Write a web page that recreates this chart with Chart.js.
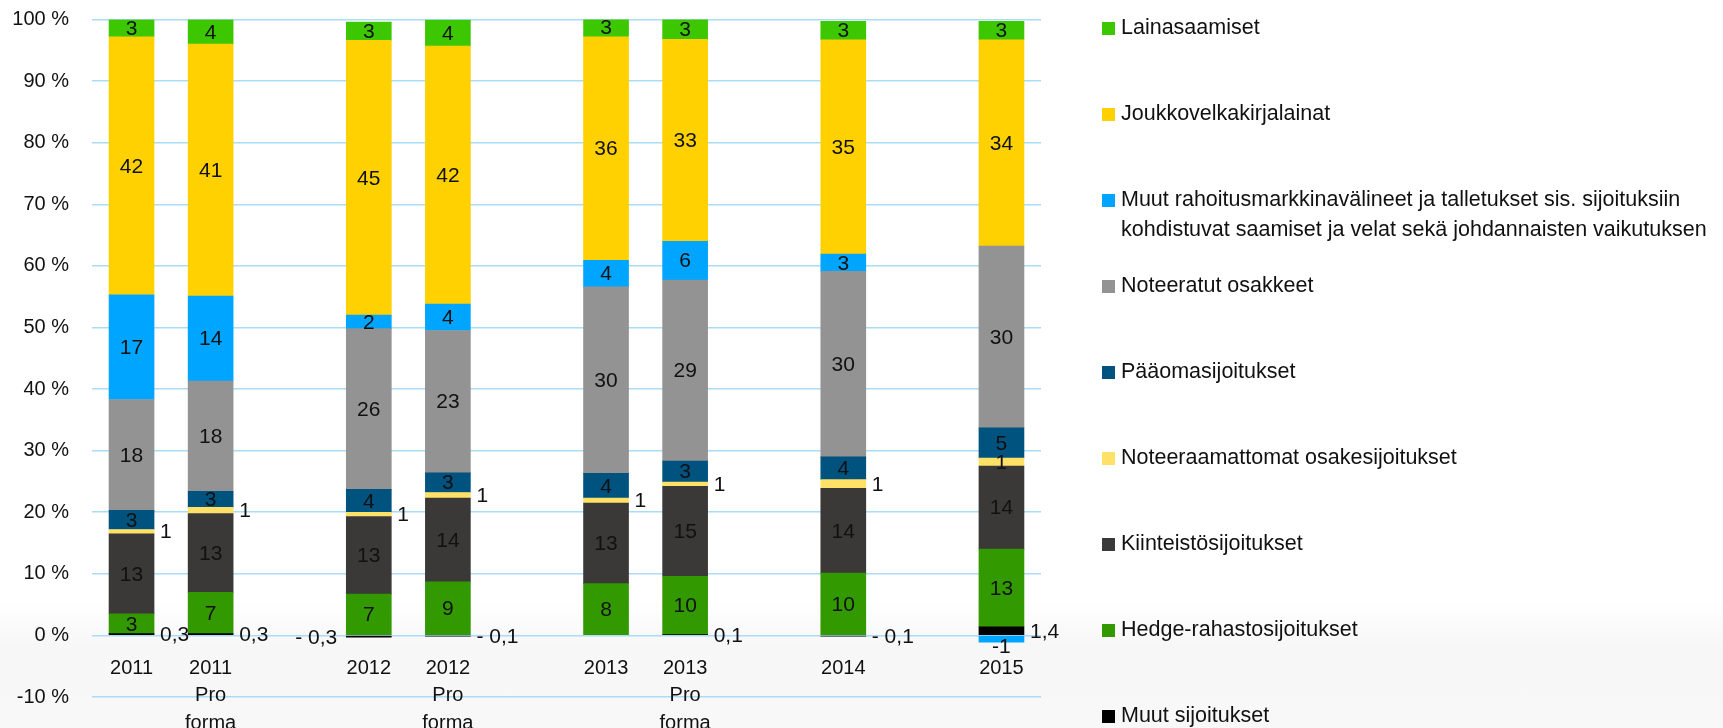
<!DOCTYPE html>
<html>
<head>
<meta charset="utf-8">
<script src="https://cdn.jsdelivr.net/npm/chart.js@4"></script>
<style>
  html, body { margin: 0; padding: 0; overflow: hidden; }
  body { width: 1723px; height: 728px; background: linear-gradient(#fff 0, #fff 600px, #f7f7f7 645px, #f8f8f8 728px); }
  canvas { display: block; }
</style>
</head>
<body>
<canvas id="allocChart" width="1723" height="728"></canvas>
<script>
// category slots, '' = empty spacer column as in the original sheet
const categories = [
  "2011", ["2011", "Pro", "forma"], "",
  "2012", ["2012", "Pro", "forma"], "",
  "2013", ["2013", "Pro", "forma"], "",
  "2014", "", "2015",
];

// one value per period: 2011, 2011 PF, 2012, 2012 PF, 2013, 2013 PF, 2014, 2015
const muutSijoitukset = [0.3, 0.3, -0.3, -0.1, null, 0.1, -0.1, 1.4];
const hedge = [3.2, 6.7, 6.7, 8.7, 8.4, 9.5, 10.1, 12.6];
const kiinteisto = [13.0, 12.8, 12.6, 13.6, 13.1, 14.6, 13.8, 13.5];
const noteeraamattomat = [0.7, 1.0, 0.7, 0.9, 0.8, 0.7, 1.4, 1.3];
const paaoma = [3.1, 2.6, 3.7, 3.2, 4.0, 3.4, 3.7, 4.9];
const noteeratut = [18.0, 17.9, 26.1, 23.1, 30.3, 29.4, 30.1, 29.5];
const muutRahoitus = [17.0, 13.8, 2.2, 4.3, 4.3, 6.3, 2.8, -1.1];
const joukkovelka = [41.9, 40.9, 44.6, 41.9, 36.3, 32.8, 34.8, 33.5];
const lainasaamiset = [2.8, 4.0, 3.0, 4.2, 3.0, 3.3, 3.0, 3.0];

const yTicks = [-10, 0, 10, 20, 30, 40, 50, 60, 70, 80, 90, 100];

const FONT = "'Liberation Sans', Arial, sans-serif";

// put per-period values onto the non-empty category slots
function _spread(values) {
  const out = [];
  let k = 0;
  for (let i = 0; i < categories.length; i++) {
    if (categories[i] === "") out.push(null);
    else out.push(values[k++]);
  }
  return out;
}

function _fmtInt(v) {
  return String(Math.round(v));
}

function _fmtDec(v) {
  const s = Math.abs(v).toFixed(1).replace(".", ",");
  return v < 0 ? "- " + s : s;
}

const series = [
  { label: "Muut sijoitukset", data: muutSijoitukset, color: "#000000", fmt: _fmtDec,
    place: ["right", "right", "left", "right", "right", "right", "right", "right"] },
  { label: "Hedge-rahastosijoitukset", data: hedge, color: "#339900" },
  { label: "Kiinteistösijoitukset", data: kiinteisto, color: "#3b3838" },
  { label: "Noteeraamattomat osakesijoitukset", data: noteeraamattomat, color: "#ffe168",
    place: ["right", "right", "right", "right", "right", "right", "right", "center"] },
  { label: "Pääomasijoitukset", data: paaoma, color: "#00527f" },
  { label: "Noteeratut osakkeet", data: noteeratut, color: "#939393" },
  { label: "Muut rahoitusmarkkinavälineet ja talletukset sis. sijoituksiin kohdistuvat saamiset ja velat sekä johdannaisten vaikutuksen",
    data: muutRahoitus, color: "#00a5ff" },
  { label: "Joukkovelkakirjalainat", data: joukkovelka, color: "#ffd100" },
  { label: "Lainasaamiset", data: lainasaamiset, color: "#3dc700" },
];

const barLabels = {
  id: "barLabels",
  afterDatasetsDraw(chart) {
    const ctx = chart.ctx;
    ctx.save();
    ctx.font = "21px " + FONT;
    ctx.fillStyle = "#111";
    ctx.textBaseline = "middle";
    chart.data.datasets.forEach((ds, di) => {
      const meta = chart.getDatasetMeta(di);
      meta.data.forEach((bar, i) => {
        const v = ds.data[i];
        if (v === null || v === undefined) return;
        const { x, y, base, width } = bar.getProps(["x", "y", "base", "width"], true);
        const place = ds.place ? ds.place[i] : v < 0 ? "below" : "center";
        const text = (ds.fmt || _fmtInt)(v);
        const mid = (y + base) / 2;
        if (place === "right") {
          ctx.textAlign = "left";
          ctx.fillText(text, x + width / 2 + 6, mid + 1);
        } else if (place === "left") {
          ctx.textAlign = "right";
          ctx.fillText(text, x - width / 2 - 9, mid + 1);
        } else if (place === "below") {
          ctx.textAlign = "center";
          ctx.fillText(text, x, Math.max(y, base) + 5);
        } else {
          ctx.textAlign = "center";
          ctx.fillText(text, x, mid + 1);
        }
      });
    });
    ctx.restore();
  },
};

function _wrap(ctx, text, maxWidth) {
  const words = text.split(" ");
  const lines = [];
  let line = "";
  words.forEach((w) => {
    const next = line ? line + " " + w : w;
    if (line && ctx.measureText(next).width > maxWidth) {
      lines.push(line);
      line = w;
    } else {
      line = next;
    }
  });
  if (line) lines.push(line);
  return lines;
}

const sideLegend = {
  id: "sideLegend",
  afterDraw(chart, args, opts) {
    const ctx = chart.ctx;
    ctx.save();
    ctx.font = opts.font;
    ctx.textBaseline = "middle";
    ctx.textAlign = "left";
    const items = chart.data.datasets.slice().reverse();
    items.forEach((ds, i) => {
      const cy = opts.top + i * opts.step;
      ctx.fillStyle = ds.backgroundColor;
      ctx.fillRect(opts.x, cy - opts.box / 2, opts.box, opts.box);
      ctx.fillStyle = "#111";
      _wrap(ctx, ds.label, opts.maxWidth).forEach((line, k) => {
        ctx.fillText(line, opts.x + opts.box + 6, cy + k * opts.lineHeight);
      });
    });
    ctx.restore();
  },
};

new Chart(document.getElementById("allocChart").getContext("2d"), {
  type: "bar",
  data: {
    labels: categories,
    datasets: series.map((s) => ({
      label: s.label,
      data: _spread(s.data),
      place: s.place ? _spread(s.place) : null,
      fmt: s.fmt,
      backgroundColor: s.color,
      borderWidth: 0,
      barThickness: 45,
    })),
  },
  options: {
    responsive: false,
    devicePixelRatio: 1,
    animation: false,
    layout: { padding: { left: 0, top: 19.5, right: 682, bottom: 31 } },
    plugins: {
      legend: { display: false },
      tooltip: { enabled: false },
      sideLegend: { x: 1102, box: 13, top: 28.5, step: 86, lineHeight: 29.5, maxWidth: 640, font: "21.5px " + FONT },
    },
    scales: {
      x: {
        stacked: true,
        offset: true,
        position: { y: 0 },
        grid: { display: false },
        border: { display: false },
        ticks: {
          autoSkip: false,
          maxRotation: 0,
          padding: 11,
          color: "#111",
          font: { family: FONT, size: 20, lineHeight: 1.375 },
        },
      },
      y: {
        stacked: true,
        min: yTicks[0],
        max: yTicks[yTicks.length - 1],
        afterFit: (s) => {
          s.width = 92;
          s.paddingTop = 0;
          s.paddingBottom = 0;
        },
        afterBuildTicks: (s) => { s.ticks = yTicks.map((v) => ({ value: v })); },
        grid: { color: "#aadcf6", lineWidth: 1.5, drawTicks: false },
        border: { display: false },
        ticks: {
          padding: 23,
          color: "#111",
          font: { family: FONT, size: 20 },
          callback: (v) => v + " %",
        },
      },
    },
  },
  plugins: [barLabels, sideLegend],
});
</script>
</body>
</html>
